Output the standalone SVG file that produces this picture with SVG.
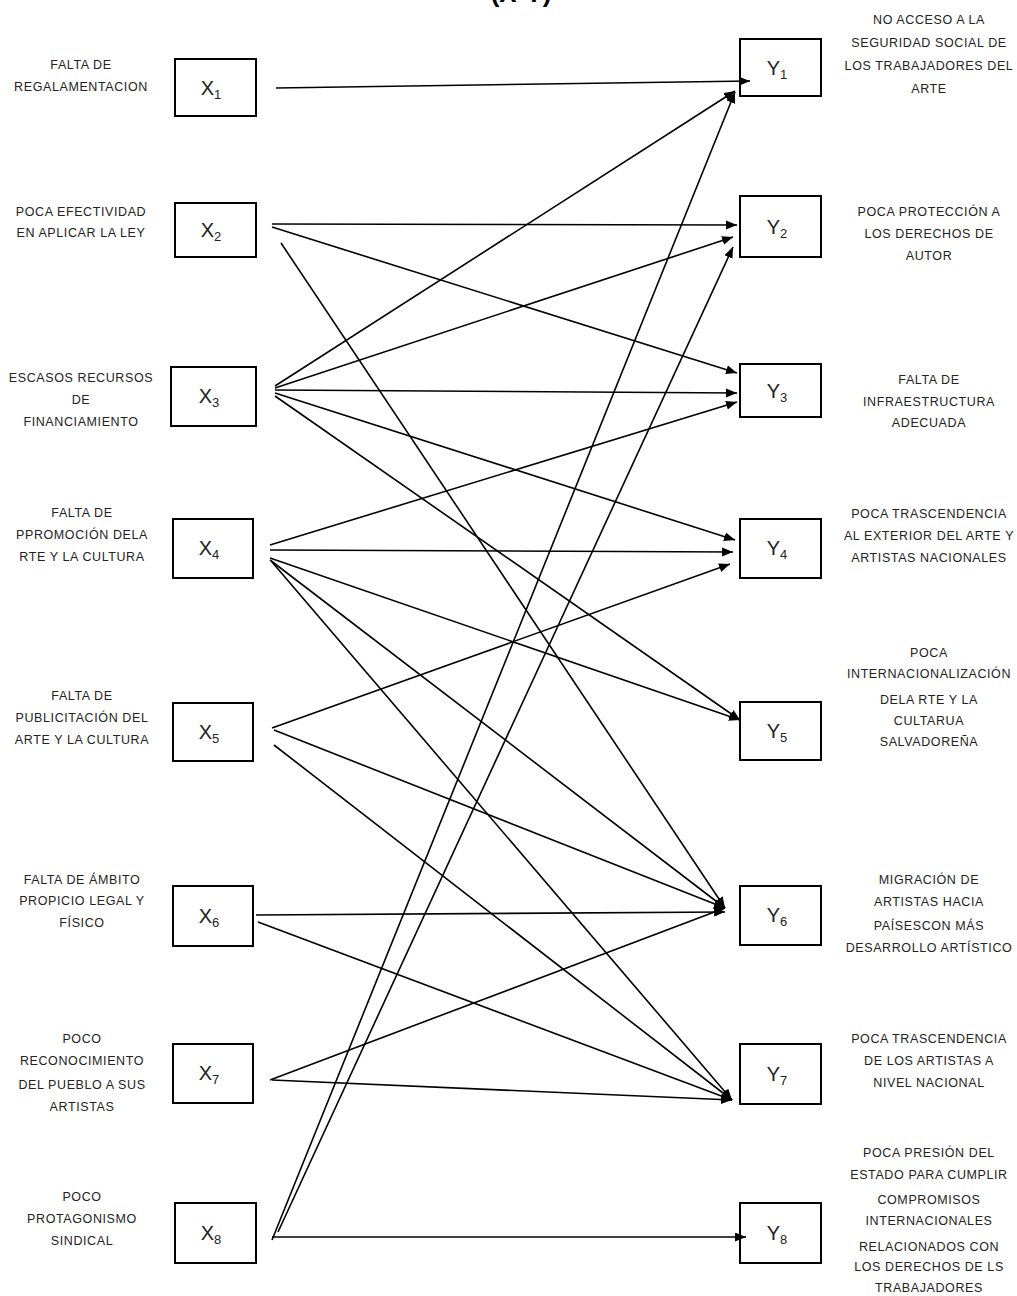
<svg xmlns="http://www.w3.org/2000/svg" width="1017" height="1296" viewBox="0 0 1017 1296">
<defs>
<marker id="ah" markerUnits="userSpaceOnUse" markerWidth="12" markerHeight="10" refX="11" refY="4.5" orient="auto">
<path d="M0,0 L11,4.5 L0,9 z" fill="#000"/>
</marker>
<style>
.box{fill:#fff;stroke:#000;stroke-width:2}
.lbl{font-family:"Liberation Sans",Arial,sans-serif;font-size:12.5px;letter-spacing:0.6px;fill:#222;text-anchor:middle}
.var{font-family:"Liberation Sans",Arial,sans-serif;font-size:20px;fill:#222;text-anchor:middle}
.sub{font-size:13px}
.con line{stroke:#000;stroke-width:1.6;fill:none;marker-end:url(#ah)}
.title{font-family:"Liberation Sans",Arial,sans-serif;font-size:26px;font-weight:bold;fill:#000;text-anchor:middle}
</style>
</defs>
<rect width="1017" height="1296" fill="#fff"/>
<text class="title" x="521" y="2">(X-Y)</text>

<g id="X1"><rect class="box" x="175" y="59" width="81" height="57"/><text class="var" x="211" y="95">X<tspan class="sub" dy="4">1</tspan></text>
<text class="lbl" x="81" y="69">FALTA DE</text><text class="lbl" x="81" y="91">REGALAMENTACION</text></g>
<g id="X2"><rect class="box" x="175" y="203" width="81" height="54"/><text class="var" x="211" y="237">X<tspan class="sub" dy="4">2</tspan></text>
<text class="lbl" x="81" y="216">POCA EFECTIVIDAD</text><text class="lbl" x="81" y="237">EN APLICAR LA LEY</text></g>
<g id="X3"><rect class="box" x="171" y="367" width="85" height="59"/><text class="var" x="209" y="403">X<tspan class="sub" dy="4">3</tspan></text>
<text class="lbl" x="81" y="382">ESCASOS RECURSOS</text><text class="lbl" x="81" y="404">DE</text><text class="lbl" x="81" y="426">FINANCIAMIENTO</text></g>
<g id="X4"><rect class="box" x="173" y="519" width="80" height="59"/><text class="var" x="209" y="555">X<tspan class="sub" dy="4">4</tspan></text>
<text class="lbl" x="82" y="517">FALTA DE</text><text class="lbl" x="82" y="539">PPROMOCIÓN DELA</text><text class="lbl" x="82" y="561">RTE Y LA CULTURA</text></g>
<g id="X5"><rect class="box" x="173" y="703" width="80" height="58"/><text class="var" x="209" y="739">X<tspan class="sub" dy="4">5</tspan></text>
<text class="lbl" x="82" y="700">FALTA  DE</text><text class="lbl" x="82" y="722">PUBLICITACIÓN  DEL</text><text class="lbl" x="82" y="744">ARTE Y LA CULTURA</text></g>
<g id="X6"><rect class="box" x="173" y="886" width="80" height="60"/><text class="var" x="209" y="923">X<tspan class="sub" dy="4">6</tspan></text>
<text class="lbl" x="82" y="884">FALTA DE ÁMBITO</text><text class="lbl" x="82" y="905">PROPICIO LEGAL Y</text><text class="lbl" x="82" y="927">FÍSICO</text></g>
<g id="X7"><rect class="box" x="173" y="1044" width="80" height="59"/><text class="var" x="209" y="1080">X<tspan class="sub" dy="4">7</tspan></text>
<text class="lbl" x="82" y="1043">POCO</text><text class="lbl" x="82" y="1065">RECONOCIMIENTO</text><text class="lbl" x="82" y="1089">DEL PUEBLO A SUS</text><text class="lbl" x="82" y="1111">ARTISTAS</text></g>
<g id="X8"><rect class="box" x="175" y="1203" width="81" height="60"/><text class="var" x="211" y="1240">X<tspan class="sub" dy="4">8</tspan></text>
<text class="lbl" x="82" y="1201">POCO</text><text class="lbl" x="82" y="1223">PROTAGONISMO</text><text class="lbl" x="82" y="1245">SINDICAL</text></g>

<g id="Y1"><rect class="box" x="740" y="39" width="81" height="57"/><text class="var" x="777" y="75">Y<tspan class="sub" dy="4">1</tspan></text>
<text class="lbl" x="929" y="24">NO ACCESO A LA</text><text class="lbl" x="929" y="47">SEGURIDAD SOCIAL DE</text><text class="lbl" x="929" y="70">LOS TRABAJADORES DEL</text><text class="lbl" x="929" y="93">ARTE</text></g>
<g id="Y2"><rect class="box" x="740" y="196" width="81" height="61"/><text class="var" x="777" y="234">Y<tspan class="sub" dy="4">2</tspan></text>
<text class="lbl" x="929" y="216">POCA PROTECCIÓN A</text><text class="lbl" x="929" y="238">LOS DERECHOS DE</text><text class="lbl" x="929" y="260">AUTOR</text></g>
<g id="Y3"><rect class="box" x="740" y="364" width="81" height="53"/><text class="var" x="777" y="398">Y<tspan class="sub" dy="4">3</tspan></text>
<text class="lbl" x="929" y="384">FALTA DE</text><text class="lbl" x="929" y="406">INFRAESTRUCTURA</text><text class="lbl" x="929" y="427">ADECUADA</text></g>
<g id="Y4"><rect class="box" x="740" y="519" width="81" height="59"/><text class="var" x="777" y="555">Y<tspan class="sub" dy="4">4</tspan></text>
<text class="lbl" x="929" y="518">POCA TRASCENDENCIA</text><text class="lbl" x="929" y="540">AL EXTERIOR DEL ARTE Y</text><text class="lbl" x="929" y="562">ARTISTAS NACIONALES</text></g>
<g id="Y5"><rect class="box" x="740" y="702" width="81" height="58"/><text class="var" x="777" y="738">Y<tspan class="sub" dy="4">5</tspan></text>
<text class="lbl" x="929" y="657">POCA</text><text class="lbl" x="929" y="678">INTERNACIONALIZACIÓN</text><text class="lbl" x="929" y="704">DELA RTE Y LA</text><text class="lbl" x="929" y="725">CULTARUA</text><text class="lbl" x="929" y="746">SALVADOREÑA</text></g>
<g id="Y6"><rect class="box" x="740" y="886" width="81" height="59"/><text class="var" x="777" y="922">Y<tspan class="sub" dy="4">6</tspan></text>
<text class="lbl" x="929" y="884">MIGRACIÓN DE</text><text class="lbl" x="929" y="906">ARTISTAS HACIA</text><text class="lbl" x="929" y="930">PAÍSESCON MÁS</text><text class="lbl" x="929" y="952">DESARROLLO ARTÍSTICO</text></g>
<g id="Y7"><rect class="box" x="740" y="1044" width="81" height="60"/><text class="var" x="777" y="1081">Y<tspan class="sub" dy="4">7</tspan></text>
<text class="lbl" x="929" y="1043">POCA TRASCENDENCIA</text><text class="lbl" x="929" y="1065">DE LOS ARTISTAS A</text><text class="lbl" x="929" y="1087">NIVEL NACIONAL</text></g>
<g id="Y8"><rect class="box" x="740" y="1203" width="81" height="60"/><text class="var" x="777" y="1240">Y<tspan class="sub" dy="4">8</tspan></text>
<text class="lbl" x="929" y="1157">POCA PRESIÓN DEL</text><text class="lbl" x="929" y="1179">ESTADO PARA CUMPLIR</text><text class="lbl" x="929" y="1204">COMPROMISOS</text><text class="lbl" x="929" y="1225">INTERNACIONALES</text><text class="lbl" x="929" y="1251">RELACIONADOS CON</text><text class="lbl" x="929" y="1271">LOS DERECHOS DE LS</text><text class="lbl" x="929" y="1292">TRABAJADORES</text></g>

<g id="connectors" class="con">
<line x1="276" y1="88" x2="750" y2="81"/>
<line x1="272" y1="224" x2="737" y2="225"/>
<line x1="272" y1="227" x2="737" y2="373"/>
<line x1="281" y1="243" x2="725" y2="908"/>
<line x1="275" y1="386" x2="735" y2="91"/>
<line x1="275" y1="388" x2="733" y2="237"/>
<line x1="275" y1="390" x2="737" y2="393"/>
<line x1="275" y1="393" x2="735" y2="540"/>
<line x1="275" y1="396" x2="740" y2="720"/>
<line x1="270" y1="545" x2="737" y2="402"/>
<line x1="270" y1="550" x2="733" y2="552"/>
<line x1="270" y1="558" x2="740" y2="720"/>
<line x1="270" y1="560" x2="725" y2="908"/>
<line x1="272" y1="562" x2="732" y2="1100"/>
<line x1="272" y1="728" x2="730" y2="564"/>
<line x1="274" y1="730" x2="725" y2="908"/>
<line x1="274" y1="745" x2="732" y2="1100"/>
<line x1="256" y1="915" x2="725" y2="912"/>
<line x1="258" y1="922" x2="732" y2="1100"/>
<line x1="270" y1="1080" x2="725" y2="908"/>
<line x1="272" y1="1080" x2="732" y2="1100"/>
<line x1="272" y1="1240" x2="735" y2="92"/>
<line x1="278" y1="1232" x2="733" y2="247"/>
<line x1="272" y1="1237" x2="746" y2="1237"/>
</g>
</svg>
